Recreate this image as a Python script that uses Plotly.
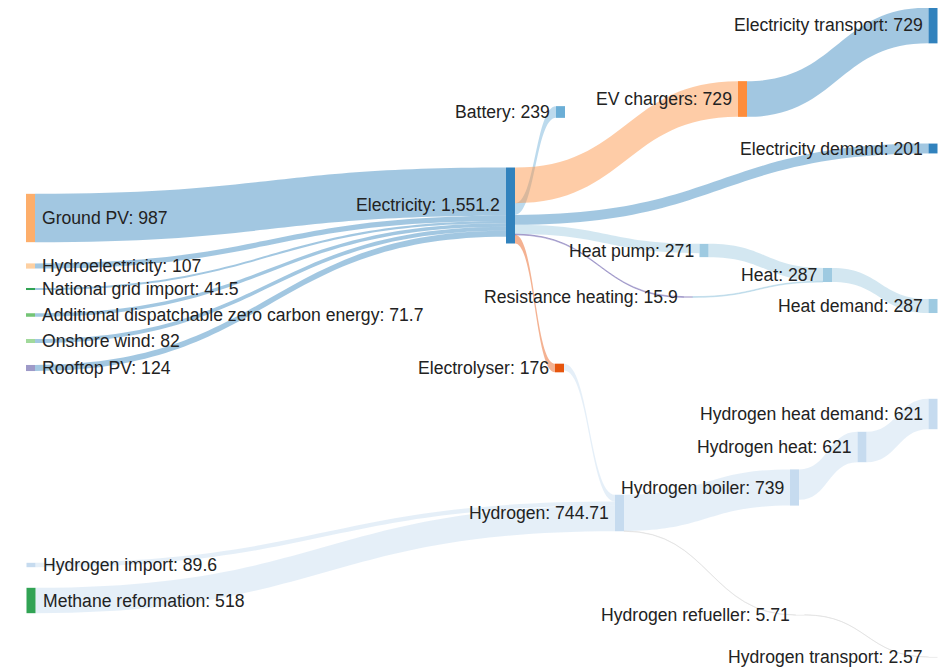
import plotly.graph_objects as go

W, H = 947, 668

# ---- data ----
node_names = [
    "Ground PV", "Hydroelectricity", "National grid import",
    "Additional dispatchable zero carbon energy", "Onshore wind", "Rooftop PV",
    "Hydrogen import", "Methane reformation",
    "Electricity", "Battery", "EV chargers", "Electricity demand",
    "Electricity transport", "Heat pump", "Resistance heating", "Heat",
    "Heat demand", "Electrolyser", "Hydrogen", "Hydrogen boiler",
    "Hydrogen heat", "Hydrogen heat demand", "Hydrogen refueller",
    "Hydrogen transport",
]
node_values = [
    987, 107, 41.5, 71.7, 82, 124,
    89.6, 518,
    1551.2, 239, 729, 201,
    729, 271, 15.9, 287,
    287, 176, 744.71, 739,
    621, 621, 5.71,
    2.57,
]

link_sources = [
    "Ground PV", "Hydroelectricity", "National grid import",
    "Additional dispatchable zero carbon energy", "Onshore wind", "Rooftop PV",
    "Electricity", "Electricity", "Electricity", "Electricity", "Electricity",
    "Electricity",
    "EV chargers", "Heat pump", "Resistance heating", "Heat",
    "Electrolyser", "Hydrogen import", "Methane reformation",
    "Hydrogen", "Hydrogen", "Hydrogen boiler", "Hydrogen heat",
    "Hydrogen refueller",
]
link_targets = [
    "Electricity", "Electricity", "Electricity", "Electricity", "Electricity",
    "Electricity",
    "Battery", "EV chargers", "Electricity demand", "Heat pump",
    "Resistance heating", "Electrolyser",
    "Electricity transport", "Heat", "Heat", "Heat demand",
    "Hydrogen", "Hydrogen", "Hydrogen",
    "Hydrogen boiler", "Hydrogen refueller", "Hydrogen heat",
    "Hydrogen heat demand", "Hydrogen transport",
]
link_values = [
    987, 107, 41.5, 71.7, 82, 124,
    239, 729, 201, 190.3, 15.9, 176,
    729, 271, 15.9, 287,
    137.11, 89.6, 518,
    739, 5.71, 621, 621, 2.57,
]

# ---- styles / layout positions (screen-pixel centres of nodes) ----
node_colors = [
    "#fdae6b", "#fdd0a2", "#31a354", "#74c476", "#a1d99b", "#9e9ac8",
    "#c6dbef", "#31a354",
    "#3182bd", "#6baed6", "#fd8d3c", "#3182bd",
    "#3182bd", "#9ecae1", "#756bb1", "#9ecae1",
    "#9ecae1", "#e6550d", "#c6dbef", "#c6dbef",
    "#c6dbef", "#c6dbef", "#d9d9d9", "#d9d9d9",
]
node_px_x = [
    30.5, 30.5, 30.5, 30.5, 30.5, 30.5,
    31, 31,
    510.5, 560.5, 742.5, 933,
    933, 704, 688, 827.5,
    933, 559.5, 619.5, 794.5,
    862, 933, 800, 933,
]
node_px_y = [
    218, 266, 289, 315, 341, 368,
    565, 600.5,
    205.5, 112, 99, 148.5,
    25.5, 250.5, 297, 275,
    306, 368, 513, 487.5,
    447, 414, 615, 657,
]
label_on_right = [True] * 8 + [False] * 16
THICK = 9
SANKEY_H = 297   # domain height in px (controls the value->px scale)
PAGE_OFF = 8     # default page margin of the html body
LINK_ALPHA = 0.45


def fmt(v):
    return f"{v:,}"


def rgba(hex_color, a):
    h = hex_color.lstrip("#")
    r, g, b = int(h[0:2], 16), int(h[2:4], 16), int(h[4:6], 16)
    return f"rgba({r},{g},{b},{a})"


idx = {n: i for i, n in enumerate(node_names)}
labels = [f"{n}: {fmt(v)}" for n, v in zip(node_names, node_values)]
src = [idx[s] for s in link_sources]
tgt = [idx[t] for t in link_targets]
link_colors = [rgba(node_colors[t], LINK_ALPHA) for t in tgt]

fx = [x - PAGE_OFF for x in node_px_x]
fy = [y - PAGE_OFF for y in node_px_y]

fig = go.Figure(
    go.Sankey(
        arrangement="fixed",
        domain=dict(x=[0, 1], y=[1 - SANKEY_H / H, 1]),
        node=dict(
            label=[""] * len(node_names),
            customdata=labels,
            hovertemplate="%{customdata}<extra></extra>",
            color=node_colors,
            x=[x / W for x in fx],
            y=[y / SANKEY_H for y in fy],
            pad=81,
            thickness=THICK,
            line=dict(width=0),
        ),
        link=dict(source=src, target=tgt, value=link_values, color=link_colors),
    )
)

annotations = []
for lab, px, py, right in zip(labels, fx, fy, label_on_right):
    if right:
        ax, anchor = px + THICK / 2 + 5, "left"
    else:
        ax, anchor = px - THICK / 2 - 4, "right"
    annotations.append(dict(
        x=ax / W, y=1 - py / H, xref="paper", yref="paper",
        text=lab, showarrow=False, xanchor=anchor, yanchor="middle",
        font=dict(family="Liberation Sans, Arial, sans-serif", size=17.6,
                  color="#222222"),
    ))

fig.update_layout(
    width=W, height=H,
    margin=dict(l=0, r=0, t=0, b=0),
    paper_bgcolor="white",
    annotations=annotations,
)
fig.write_html("out.html")
